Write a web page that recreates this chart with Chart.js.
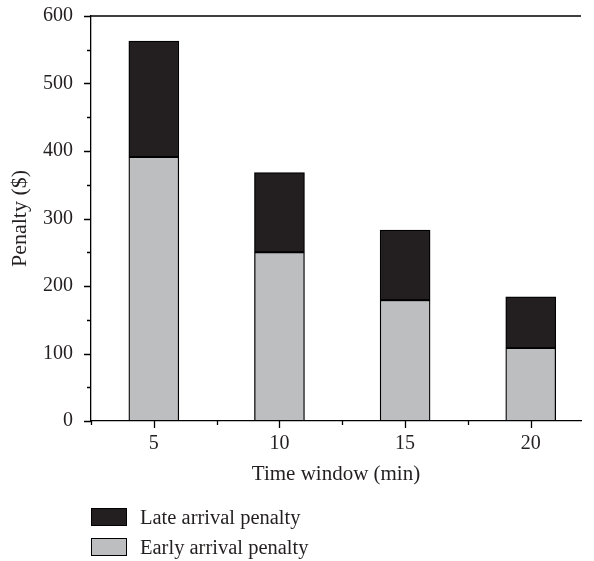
<!DOCTYPE html>
<html>
<head>
<meta charset="utf-8">
<script src="https://cdn.jsdelivr.net/npm/chart.js@4/dist/chart.umd.min.js"></script>
<style>
  html, body { margin: 0; padding: 0; background: #fff; }
  #wrap { position: relative; width: 594px; height: 561px; }
  #legend { position: absolute; left: 91px; top: 502px; font-family: "Liberation Serif", serif; font-size: 20.5px; color: #231f20; }
  .leg-row { display: flex; align-items: center; height: 30px; }
  .leg-box { box-sizing: border-box; width: 36px; height: 18px; border: 1.3px solid #000; margin-right: 13px; }
</style>
</head>
<body>
<div id="wrap">
  <canvas id="penaltyChart" width="594" height="561"></canvas>
  <div id="legend"></div>
</div>
<script>
// time windows (min) and penalties ($)
const timeWindows = [5, 10, 15, 20];
const earlyPenalty = [391, 250, 179, 108];
const latePenalty = [172, 118, 104, 76];
const yTicks = [0, 100, 200, 300, 400, 500, 600];

const INK = "#231f20";
const FONT = "Liberation Serif";

// minor + major tick marks, and the top frame line
const frameTicks = {
  id: "frameTicks",
  afterDraw(chart) {
    const { ctx, chartArea: a, scales: { x, y } } = chart;
    ctx.save();
    ctx.strokeStyle = "#000";
    ctx.lineWidth = 1.3;
    ctx.beginPath();
    ctx.moveTo(a.left, a.top);
    ctx.lineTo(a.right, a.top);
    for (let v = 0; v <= 600; v += 50) {
      const py = Math.round(y.getPixelForValue(v)) + 0.5;
      const len = v % 100 === 0 ? 7 : 4;
      ctx.moveTo(a.left, py);
      ctx.lineTo(a.left - len, py);
    }
    for (let v = 2.5; v <= 20; v += 2.5) {
      const px = Math.round(x.getPixelForValue(v)) + 0.5;
      const len = v % 5 === 0 ? 7 : 4;
      ctx.moveTo(px, a.bottom);
      ctx.lineTo(px, a.bottom + len);
    }
    ctx.stroke();
    ctx.restore();
  },
};

const series = [
  { label: "Early arrival penalty", values: earlyPenalty, color: "#bcbec0" },
  { label: "Late arrival penalty", values: latePenalty, color: "#231f20" },
];

new Chart(document.getElementById("penaltyChart"), {
  type: "bar",
  data: {
    datasets: series.map((s) => ({
      label: s.label,
      data: timeWindows.map((w, i) => ({ x: w, y: s.values[i] })),
      backgroundColor: s.color,
      borderColor: "#000",
      borderWidth: 1.3,
      borderSkipped: false,
      barThickness: 50,
    })),
  },
  options: {
    responsive: false,
    animation: false,
    layout: { padding: { left: 0, right: 13, top: 16, bottom: 70 } },
    plugins: { legend: { display: false }, tooltip: { enabled: false } },
    scales: {
      x: {
        type: "linear",
        stacked: true,
        offset: false,
        min: 2.5,
        max: 22,
        afterBuildTicks: (s) => { s.ticks = timeWindows.map((v) => ({ value: v })); },
        afterFit: (s) => { s.height = 70; s.paddingLeft = 0; s.paddingRight = 0; },
        grid: { display: false, drawTicks: false, offset: false },
        border: { display: true, color: "#000", width: 1.3 },
        ticks: { padding: 11, color: INK, font: { family: FONT, size: 20 } },
        title: { display: true, text: "Time window (min)", color: INK, padding: { top: 0, bottom: 4 }, font: { family: FONT, size: 21 } },
      },
      y: {
        stacked: true,
        min: 0,
        max: 600,
        afterBuildTicks: (s) => { s.ticks = yTicks.map((v) => ({ value: v })); },
        afterFit: (s) => { s.width = 91; s.paddingTop = 0; s.paddingBottom = 0; },
        grid: { display: false, drawTicks: false },
        border: { display: true, color: "#000", width: 1.3 },
        ticks: { padding: 18, color: INK, font: { family: FONT, size: 20 } },
        title: { display: true, text: "Penalty ($)", color: INK, padding: { top: 7, bottom: 0 }, font: { family: FONT, size: 22 } },
      },
    },
  },
  plugins: [frameTicks],
});

// legend, late first like the figure
const legend = document.getElementById("legend");
series.slice().reverse().forEach((s) => {
  const row = document.createElement("div");
  row.className = "leg-row";
  const box = document.createElement("span");
  box.className = "leg-box";
  box.style.background = s.color;
  const txt = document.createElement("span");
  txt.textContent = s.label;
  row.appendChild(box);
  row.appendChild(txt);
  legend.appendChild(row);
});
</script>
</body>
</html>
